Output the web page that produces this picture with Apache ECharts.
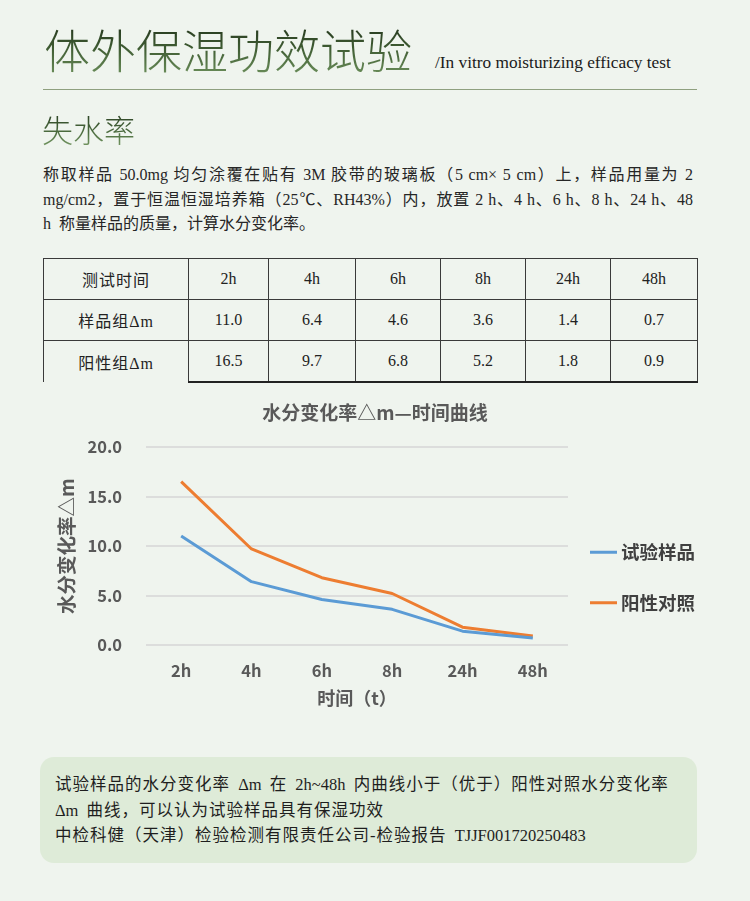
<!DOCTYPE html>
<html>
<head>
<meta charset="utf-8">
<script src="https://cdn.jsdelivr.net/npm/echarts@6/dist/echarts.min.js"></script>
<style>
  html, body { margin:0; padding:0; }
  body { width:750px; height:901px; background:#eff4ee; position:relative; overflow:hidden;
         font-family:"Liberation Serif","Noto Sans CJK SC",serif; color:#222; }
  .abs { position:absolute; }
  #title { left:44px; top:18px; font-family:"Noto Sans CJK SC",sans-serif; font-weight:300; font-size:46px; line-height:60px;
           background:linear-gradient(to bottom,#1c2a16 0%,#3f5c33 50%,#6f935e 100%); -webkit-background-clip:text; background-clip:text; color:transparent; }
  #subtitle { left:435px; top:53px; font-size:17.3px; color:#1a1a1a; }
  #rule { left:43px; top:89px; width:654px; height:0; border-top:1.5px solid #8fa07f; }
  #h2 { left:42px; top:108px; font-family:"Noto Sans CJK SC",sans-serif; font-weight:300; font-size:31px; line-height:42px;
        background:linear-gradient(to bottom,#22351c 0%,#4d6e40 60%,#7fa36c 100%); -webkit-background-clip:text; background-clip:text; color:transparent; }
  #para { left:43px; top:163px; width:650px; font-size:16px; line-height:24.5px; color:#262626; }
  #para .ln { display:block; text-align:justify; text-align-last:justify; white-space:nowrap; }
  #para .ln.last { text-align-last:left; }
  table#tbl { position:absolute; left:43px; top:258px; width:655px; border-collapse:collapse; table-layout:fixed; font-size:16px; color:#222; }
  #tbl td { border:1px solid #3a3a3a; height:40px; text-align:center; padding:0; }
  #tbl td.c0 { letter-spacing:1px; }
  #tbl tr.lastrow td { border-bottom:2px solid #222; }
  #tbl tr.lastrow td.c0 { border-bottom:none; }
  #chart { left:0; top:390px; width:750px; height:335px; }
  #box { left:40px; top:757px; width:657px; height:106px; background:#deebd8; border-radius:14px; }
  #boxtext { left:55px; top:772px; font-size:16.5px; letter-spacing:1px; word-spacing:3px; line-height:25.5px; color:#1e1e1e; white-space:nowrap; }
  #boxtext .lt { letter-spacing:0; }
</style>
</head>
<body>
<div id="title" class="abs">体外保湿功效试验</div>
<div id="subtitle" class="abs">/In vitro moisturizing efficacy test</div>
<div id="rule" class="abs"></div>
<div id="h2" class="abs">失水率</div>
<div id="para" class="abs">
  <span class="ln">称取样品 50.0mg 均匀涂覆在贴有 3M 胶带的玻璃板（5 cm× 5 cm）上，样品用量为 2</span>
  <span class="ln">mg/cm2，置于恒温恒湿培养箱（25℃、RH43%）内，放置 2 h、4 h、6 h、8 h、24 h、48</span>
  <span class="ln last">h&nbsp; 称量样品的质量，计算水分变化率。</span>
</div>
<table id="tbl"></table>
<div id="chart" class="abs"></div>
<div id="box" class="abs"></div>
<div id="boxtext" class="abs">试验样品的水分变化率 <span class="lt">Δm</span> 在 <span class="lt">2h~48h</span> 内曲线小于（优于）阳性对照水分变化率<br><span class="lt">Δm</span> 曲线，可以认为试验样品具有保湿功效<br>中检科健（天津）检验检测有限责任公司-检验报告 <span class="lt">TJJF001720250483</span></div>
<script>
// ---- data ----
var categories = ['2h', '4h', '6h', '8h', '24h', '48h'];
var sampleValues = [11.0, 6.4, 4.6, 3.6, 1.4, 0.7];
var positiveValues = [16.5, 9.7, 6.8, 5.2, 1.8, 0.9];
var tableHeader = '测试时间';
var tableRowLabels = ['样品组Δm', '阳性组Δm'];
var seriesNames = ['试验样品', '阳性对照'];
var yMin = 0, yMax = 20, yInterval = 5;

// ---- table ----
(function () {
  var tbl = document.getElementById('tbl');
  var widths = [145, 80, 87, 85, 85, 85, 87];
  var html = '<colgroup>';
  widths.forEach(function (w) { html += '<col style="width:' + w + 'px">'; });
  html += '</colgroup><tr><td class="c0">' + tableHeader + '</td>';
  categories.forEach(function (c) { html += '<td>' + c + '</td>'; });
  html += '</tr>';
  [sampleValues, positiveValues].forEach(function (vals, i) {
    html += '<tr' + (i === 1 ? ' class="lastrow"' : '') + '><td class="c0">' + tableRowLabels[i] + '</td>';
    vals.forEach(function (v) { html += '<td>' + v.toFixed(1) + '</td>'; });
    html += '</tr>';
  });
  tbl.innerHTML = html;
})();

// ---- chart ----
var chart = echarts.init(document.getElementById('chart'));
var txt = '#595959';
var fam = '"Noto Sans CJK SC", "Noto Sans", sans-serif';
chart.setOption({
  backgroundColor: 'transparent',
  animation: false,
  title: {
    text: '水分变化率△m—时间曲线',
    left: 'center',
    top: 8,
    textStyle: { fontFamily: fam, fontSize: 19, fontWeight: 'bold', color: txt }
  },
  legend: {
    orient: 'vertical',
    left: 585,
    top: 148,
    itemGap: 32,
    icon: 'rect',
    itemWidth: 27,
    itemHeight: 3,
    textStyle: { fontFamily: fam, fontSize: 18.5, fontWeight: 'bold', color: '#404040', padding: [0, 0, 0, -1] },
    data: seriesNames
  },
  grid: { left: 146, right: 182, top: 57, height: 198 },
  xAxis: {
    type: 'category',
    data: categories,
    boundaryGap: true,
    axisLine: { show: false },
    axisTick: { show: false },
    axisLabel: { margin: 17, fontFamily: fam, fontSize: 16.5, fontWeight: 'bold', color: txt },
    name: '时间（t）',
    nameLocation: 'middle',
    nameGap: 44,
    nameTextStyle: { fontFamily: fam, fontSize: 18, fontWeight: 'bold', color: txt }
  },
  yAxis: {
    type: 'value',
    min: yMin, max: yMax, interval: yInterval,
    axisLine: { show: false },
    axisTick: { show: false },
    splitLine: { lineStyle: { color: '#d6d6d6', width: 1.5 } },
    axisLabel: { margin: 24, fontFamily: fam, fontSize: 16.5, fontWeight: 'bold', color: txt,
                 formatter: function (v) { return v.toFixed(1); } },
    name: '水分变化率△m',
    nameLocation: 'middle',
    nameGap: 68,
    nameRotate: 90,
    nameTextStyle: { fontFamily: fam, fontSize: 19.5, fontWeight: 'bold', color: txt }
  },
  series: [
    { name: seriesNames[1], type: 'line', data: positiveValues, showSymbol: false, symbol: 'none',
      lineStyle: { width: 3, color: '#ed7d31' }, itemStyle: { color: '#ed7d31' } },
    { name: seriesNames[0], type: 'line', data: sampleValues, showSymbol: false, symbol: 'none',
      lineStyle: { width: 3, color: '#5b9bd5' }, itemStyle: { color: '#5b9bd5' } }
  ]
});
</script>
</body>
</html>
